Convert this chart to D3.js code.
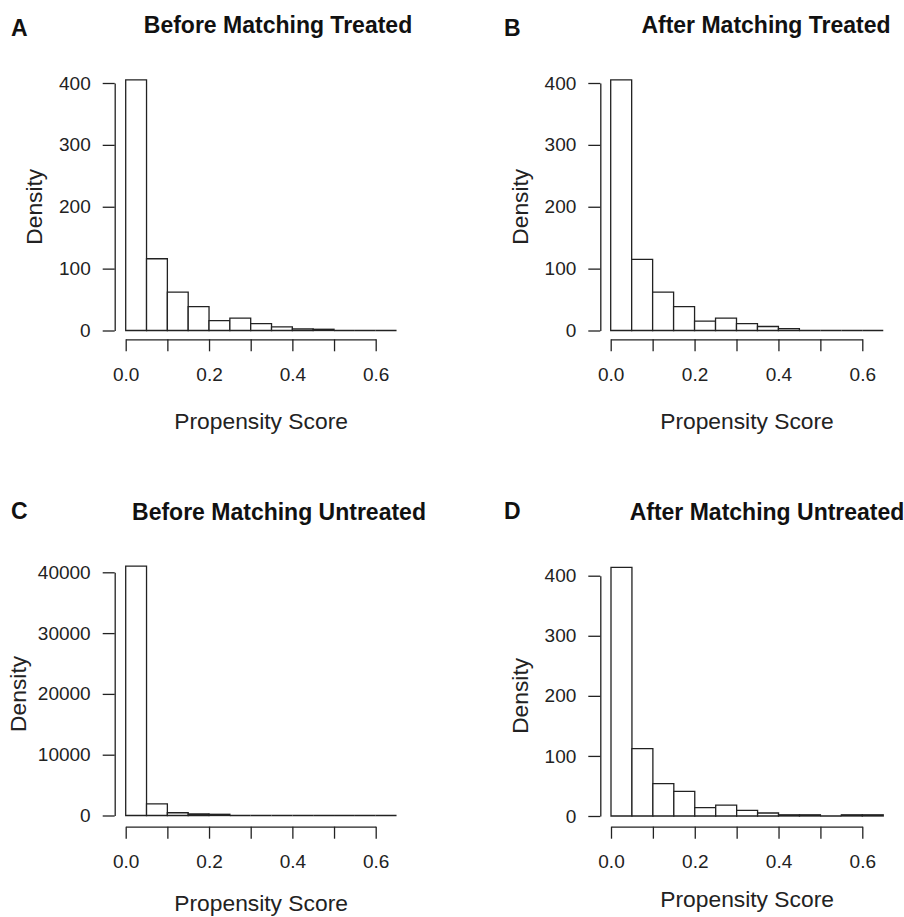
<!DOCTYPE html>
<html>
<head>
<meta charset="utf-8">
<script src="https://cdn.jsdelivr.net/npm/d3@7"></script>
<style>
  body { margin: 0; background: #fff; }
  svg { display: block; font-family: "Liberation Sans", Arial, sans-serif; }
  .bar { fill: #fff; stroke: #222; stroke-width: 1.3; }
  .axis path, .axis line { stroke: #222; stroke-width: 1.3; }
  .axis text { fill: #222; font-size: 19px; font-family: "Liberation Sans", Arial, sans-serif; }
</style>
</head>
<body>
<svg id="chart" width="904" height="917"></svg>
<script>
// Histogram bin breaks (propensity score)
const breaks = [0.00, 0.05, 0.10, 0.15, 0.20, 0.25, 0.30, 0.35, 0.40, 0.45, 0.50, 0.55, 0.60, 0.65];

// Density per bin
const beforeTreated   = [405, 116, 62, 38.5, 16, 20, 11, 6, 2.5, 2, 0, 0, 0];
const afterTreated    = [405, 115, 62, 38.5, 15, 20, 11, 6.5, 3, 0, 0, 0, 0];
const beforeUntreated = [41000, 1900, 450, 250, 200, 0, 0, 0, 0, 0, 0, 0, 0];
const afterUntreated  = [414, 112, 54, 41, 14, 18, 9.5, 5, 2, 2, 0, 2, 2];

// Tick values
const xTicks = [0, 0.1, 0.2, 0.3, 0.4, 0.5, 0.6];
const xTickLabels = {0: '0.0', 0.2: '0.2', 0.4: '0.4', 0.6: '0.6'};
const yTicksSmall = [0, 100, 200, 300, 400];
const yTicksLarge = [0, 10000, 20000, 30000, 40000];

// Panel layout (pixel positions only)
const panels = [
    {letter: 'A', title: 'Before Matching Treated', values: beforeTreated, yTicks: yTicksSmall,
     axisX: 114.7, x0: 125.7, x6: 375.7, y0: 330.5, yTop: 83, yTopVal: 400, axisY: 339.3,
     titleX: 278, titleY: 32.5, letterX: 11, letterY: 35.5, xLabY: 429.3, yLabX: 42},
    {letter: 'B', title: 'After Matching Treated', values: afterTreated, yTicks: yTicksSmall,
     axisX: 600.3, x0: 610.7, x6: 862.3, y0: 330.5, yTop: 83, yTopVal: 400, axisY: 339.3,
     titleX: 766, titleY: 32.5, letterX: 504, letterY: 35.5, xLabY: 429.3, yLabX: 528},
    {letter: 'C', title: 'Before Matching Untreated', values: beforeUntreated, yTicks: yTicksLarge,
     axisX: 114.7, x0: 125.7, x6: 375.7, y0: 815.5, yTop: 572.3, yTopVal: 40000, axisY: 826.7,
     titleX: 279, titleY: 520, letterX: 11, letterY: 519, xLabY: 911, yLabX: 25.5},
    {letter: 'D', title: 'After Matching Untreated', values: afterUntreated, yTicks: yTicksSmall,
     axisX: 600.3, x0: 611, x6: 862.3, y0: 816, yTop: 575.7, yTopVal: 400, axisY: 826.7,
     titleX: 767, titleY: 520, letterX: 504, letterY: 519, xLabY: 906.5, yLabX: 528}
];

const svg = d3.select('#chart');

panels.forEach(p => {
    const g = svg.append('g');

    const x = d3.scaleLinear().domain([0, 0.6]).range([p.x0, p.x6]);
    const y = d3.scaleLinear().domain([0, p.yTopVal]).range([p.y0, p.yTop]);

    // bins drawn as closed paths so empty bins still show as a baseline
    const bins = p.values.map((v, i) => ({x0: breaks[i], x1: breaks[i + 1], v: v}));
    g.selectAll('.bar')
        .data(bins)
        .join('path')
        .attr('class', 'bar')
        .attr('d', d => {
            const path = d3.path();
            path.moveTo(x(d.x0), y(0));
            path.lineTo(x(d.x0), y(d.v));
            path.lineTo(x(d.x1), y(d.v));
            path.lineTo(x(d.x1), y(0));
            path.closePath();
            return path.toString();
        });

    // x axis
    g.append('g')
        .attr('class', 'axis')
        .attr('transform', `translate(0,${p.axisY})`)
        .call(d3.axisBottom(x)
            .tickValues(xTicks)
            .tickSize(12)
            .tickSizeOuter(0)
            .tickPadding(16)
            .tickFormat(d => xTickLabels[Math.round(d * 10) / 10] || ''));

    // y axis
    g.append('g')
        .attr('class', 'axis')
        .attr('transform', `translate(${p.axisX},0)`)
        .call(d3.axisLeft(y)
            .tickValues(p.yTicks)
            .tickSize(12)
            .tickSizeOuter(0)
            .tickPadding(12)
            .tickFormat(d3.format('d')));

    g.selectAll('.axis .domain').attr('fill', 'none');

    // axis labels
    g.append('text')
        .attr('x', x(0.325))
        .attr('y', p.xLabY)
        .attr('text-anchor', 'middle')
        .style('font-size', '22.8px')
        .attr('fill', '#222')
        .text('Propensity Score');

    g.append('text')
        .attr('transform', `translate(${p.yLabX},${(p.y0 + p.yTop) / 2}) rotate(-90)`)
        .attr('text-anchor', 'middle')
        .style('font-size', '22.8px')
        .attr('fill', '#222')
        .text('Density');

    // title and panel letter
    g.append('text')
        .attr('x', p.titleX)
        .attr('y', p.titleY)
        .attr('text-anchor', 'middle')
        .style('font-size', '23px')
        .style('font-weight', 'bold')
        .attr('fill', '#111')
        .text(p.title);

    g.append('text')
        .attr('x', p.letterX)
        .attr('y', p.letterY)
        .style('font-size', '23px')
        .style('font-weight', 'bold')
        .attr('fill', '#111')
        .text(p.letter);
});
</script>
</body>
</html>
